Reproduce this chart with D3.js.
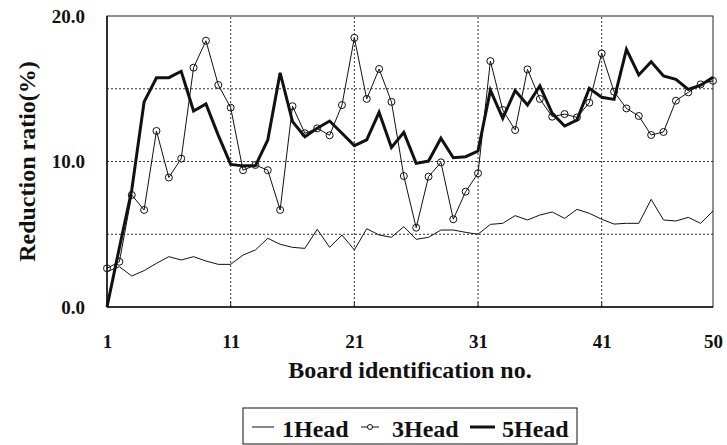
<!DOCTYPE html>
<html>
<head>
<meta charset="utf-8">
<script src="https://cdn.jsdelivr.net/npm/d3@7"></script>
<style>
  html, body { margin: 0; padding: 0; background: #fff; }
  svg text { font-family: "Liberation Serif", "Times New Roman", serif; font-weight: bold; fill: #111; }
</style>
</head>
<body>
<svg id="chart" width="727" height="445"></svg>
<script>
const boards = d3.range(1, 51);
const head1 = [2.43,2.77,2.13,2.5,3.0,3.46,3.23,3.46,3.16,2.93,
               2.93,3.57,3.92,4.72,4.31,4.1,4.03,5.34,4.1,4.95,
               3.92,5.38,4.95,4.79,5.52,4.65,4.79,5.29,5.29,5.13,
               5.0,5.68,5.75,6.28,5.98,6.32,6.53,6.09,6.71,6.44,
               6.03,5.7,5.75,5.75,7.4,5.98,5.91,6.16,5.75,6.6];
const head3 = [2.66,3.11,7.7,6.67,12.1,8.9,10.2,16.45,18.3,15.26,
               13.7,9.4,9.76,9.4,6.67,13.8,11.94,12.28,11.8,13.88,
               18.5,14.3,16.36,14.1,9.0,5.45,8.96,9.94,6.03,7.93,
               9.19,16.9,13.54,12.16,16.33,14.3,13.08,13.26,13.03,14.04,
               17.43,14.8,13.65,13.13,11.82,12.03,14.18,14.75,15.3,15.55];
const head5 = [0,4.07,8.04,14.1,15.76,15.76,16.2,13.47,13.95,11.8,
               9.8,9.7,9.7,11.48,16.1,12.74,11.7,12.28,12.78,11.94,
               11.09,11.48,13.38,10.97,12.0,9.87,10.03,11.6,10.26,10.33,
               10.72,14.9,12.97,14.87,13.88,15.19,13.31,12.44,12.85,15.03,
               14.41,14.27,17.71,15.95,16.86,15.88,15.65,14.96,15.24,15.79];
const xTicks = [1, 11, 21, 31, 41, 50];
const xGrid = [11, 21, 31, 41];
const yTicks = [0, 10, 20];
const yGrid = [5, 10, 15];
const seriesNames = ["1Head", "3Head", "5Head"];

const svg = d3.select("#chart");
const W = 727, H = 445;
const m = {left: 107, right: 14, top: 16, bottom: 138};
const x = d3.scaleLinear().domain([1, 50]).range([m.left, W - m.right]);
const y = d3.scaleLinear().domain([0, 20]).range([H - m.bottom, m.top]);

// gridlines
svg.append("g").selectAll("line").data(yGrid).join("line")
  .attr("x1", x(1)).attr("x2", x(50))
  .attr("y1", d => y(d)).attr("y2", d => y(d))
  .attr("stroke", "#333").attr("stroke-width", 1).attr("stroke-dasharray", "2,2");
svg.append("g").selectAll("line").data(xGrid).join("line")
  .attr("x1", d => x(d)).attr("x2", d => x(d))
  .attr("y1", y(0)).attr("y2", y(20))
  .attr("stroke", "#333").attr("stroke-width", 1).attr("stroke-dasharray", "2,2");
// small inner ticks at bottom
svg.append("g").selectAll("line").data(xGrid).join("line")
  .attr("x1", d => x(d)).attr("x2", d => x(d))
  .attr("y1", y(0)).attr("y2", y(0) - 5)
  .attr("stroke", "#222").attr("stroke-width", 1);

// frame
svg.append("rect").attr("x", x(1)).attr("y", y(20))
  .attr("width", x(50) - x(1)).attr("height", y(0) - y(20))
  .attr("fill", "none").attr("stroke", "#222").attr("stroke-width", 1);
svg.append("line").attr("x1", x(1)).attr("x2", x(50)).attr("y1", y(0)).attr("y2", y(0))
  .attr("stroke", "#111").attr("stroke-width", 1.5);
svg.append("line").attr("x1", x(1)).attr("x2", x(1)).attr("y1", y(0)).attr("y2", y(20))
  .attr("stroke", "#111").attr("stroke-width", 1.5);

// axes labels via d3 axes
const xAxis = d3.axisBottom(x).tickValues(xTicks).tickSize(0).tickPadding(0).tickFormat(d3.format("d"));
const gx = svg.append("g").attr("transform", `translate(0,${y(0)})`).call(xAxis);
gx.select(".domain").remove();
gx.selectAll("text").attr("font-size", 19).attr("dy", null).attr("y", 41)
  .style("font-family", "Liberation Serif").style("font-weight", "bold").attr("fill", "#111");

const yAxis = d3.axisLeft(y).tickValues(yTicks).tickSize(0).tickPadding(22).tickFormat(d3.format(".1f"));
const gy = svg.append("g").attr("transform", `translate(${x(1)},0)`).call(yAxis);
gy.select(".domain").remove();
gy.selectAll("text").attr("font-size", 19)
  .style("font-family", "Liberation Serif").style("font-weight", "bold").attr("fill", "#111");

svg.append("text").attr("x", (x(1) + x(50)) / 2).attr("y", 378)
  .attr("text-anchor", "middle").attr("font-size", 24).text("Board identification no.");
svg.append("text").attr("transform", `translate(35,${(y(0) + y(20)) / 2}) rotate(-90)`)
  .attr("text-anchor", "middle").attr("font-size", 24).text("Reduction ratio(%)");

// lines
const line = d3.line().x((d, i) => x(boards[i])).y(d => y(d));
svg.append("path").datum(head1).attr("d", line).attr("fill", "none")
  .attr("stroke", "#111").attr("stroke-width", 1);
svg.append("path").datum(head3).attr("d", line).attr("fill", "none")
  .attr("stroke", "#111").attr("stroke-width", 1);
svg.append("path").datum(head5).attr("d", line).attr("fill", "none")
  .attr("stroke", "#111").attr("stroke-width", 3).attr("stroke-linejoin", "miter");
svg.append("g").selectAll("circle").data(head3).join("circle")
  .attr("cx", (d, i) => x(boards[i])).attr("cy", d => y(d)).attr("r", 3.5)
  .attr("fill", "none").attr("stroke", "#111").attr("stroke-width", 1);

// legend
const lg = svg.append("g");
lg.append("rect").attr("x", 243).attr("y", 408).attr("width", 334).attr("height", 36)
  .attr("fill", "#fff").attr("stroke", "#111").attr("stroke-width", 1);
const ly = 427;
lg.append("line").attr("x1", 252).attr("x2", 274).attr("y1", ly).attr("y2", ly)
  .attr("stroke", "#111").attr("stroke-width", 1);
lg.append("text").attr("x", 282).attr("y", 437).attr("font-size", 24).text(seriesNames[0]);
lg.append("line").attr("x1", 361).attr("x2", 379).attr("y1", ly).attr("y2", ly)
  .attr("stroke", "#111").attr("stroke-width", 1);
lg.append("circle").attr("cx", 370).attr("cy", ly).attr("r", 2.5)
  .attr("fill", "#fff").attr("stroke", "#111").attr("stroke-width", 1);
lg.append("text").attr("x", 392).attr("y", 437).attr("font-size", 24).text(seriesNames[1]);
lg.append("line").attr("x1", 470).attr("x2", 495).attr("y1", ly).attr("y2", ly)
  .attr("stroke", "#111").attr("stroke-width", 3);
lg.append("text").attr("x", 502).attr("y", 437).attr("font-size", 24).text(seriesNames[2]);
</script>
</body>
</html>
